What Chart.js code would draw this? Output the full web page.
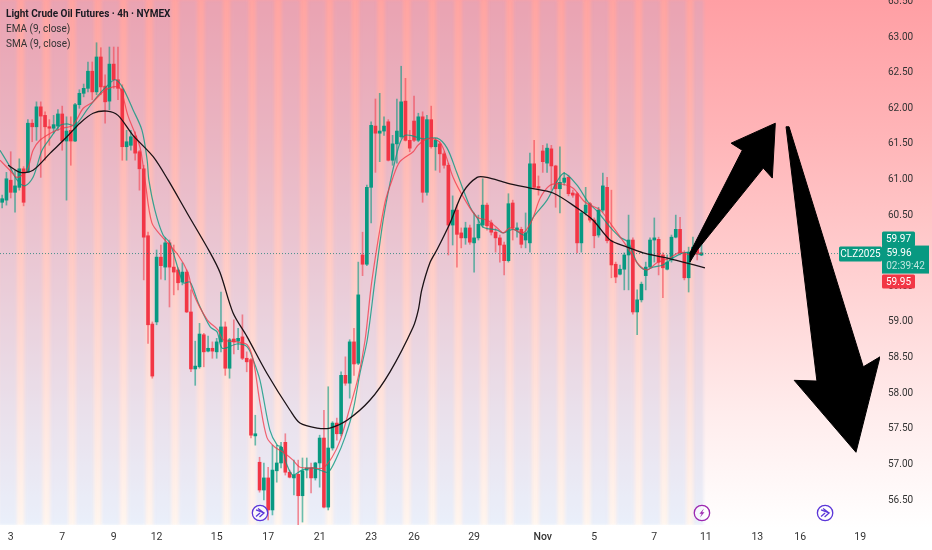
<!DOCTYPE html>
<html>
<head>
<meta charset="utf-8">
<title>Light Crude Oil Futures</title>
<script src="https://cdn.jsdelivr.net/npm/chart.js@4"></script>
<style>
html, body { margin: 0; padding: 0; background: #fff; }
canvas { display: block; filter: blur(0.3px); }
</style>
</head>
<body>
<canvas id="chart" width="932" height="550"></canvas>
<script>
// 4h candles, one entry per bar
const opens = [60.68,60.71,60.99,60.82,60.89,61.15,61.10,61.79,61.74,62.02,61.90,61.74,61.72,61.75,61.92,61.54,61.69,61.54,62.05,62.21,62.28,62.52,62.23,62.72,62.31,62.10,62.62,62.40,62.27,61.46,61.48,61.61,61.39,61.15,60.21,58.97,59.00,59.91,59.77,60.11,59.77,59.73,59.56,59.70,59.14,58.34,58.37,58.82,58.59,58.63,58.58,58.72,58.93,58.35,58.76,58.73,58.79,58.49,58.47,57.40,57.03,56.64,56.81,56.36,56.91,57.02,57.31,56.89,56.81,56.86,56.56,56.92,56.95,56.81,57.02,57.37,56.40,57.23,57.58,57.43,58.25,58.14,58.72,58.42,59.94,59.81,60.89,61.75,61.65,61.68,61.81,61.27,61.50,61.60,62.10,61.55,61.82,61.55,61.88,60.82,61.84,61.46,61.50,61.36,61.20,60.36,60.57,60.25,60.18,60.32,60.11,60.18,60.36,60.64,60.39,60.26,60.18,60.08,59.86,60.67,60.29,60.30,60.15,60.11,61.22,60.89,61.40,61.23,61.43,61.19,60.87,60.96,61.03,60.81,60.80,60.11,60.53,60.66,60.43,60.22,60.57,60.89,60.14,59.81,59.67,59.74,59.94,60.15,59.14,59.31,59.65,59.77,60.15,60.16,59.94,59.74,59.87,60.19,60.30,59.97,59.62,59.97,60.08,59.94];
const highs = [60.78,61.10,61.39,61.13,61.29,61.18,61.84,61.84,62.09,62.09,61.95,61.84,61.90,61.98,62.03,61.88,61.88,62.07,62.26,62.34,62.65,62.65,62.92,62.85,62.47,62.86,62.86,62.86,62.33,61.69,61.69,61.67,61.41,61.20,60.26,59.00,60.01,60.08,60.18,60.15,60.08,59.76,59.83,59.73,59.45,58.73,58.98,58.84,58.80,58.72,58.77,59.42,59.00,58.77,59.03,58.91,59.10,58.58,58.49,57.69,57.10,57.02,56.96,57.27,57.27,57.31,57.43,56.92,57.06,57.06,57.09,57.09,57.02,57.03,57.41,57.76,58.09,57.60,57.65,58.30,58.51,58.75,58.91,59.84,60.26,60.92,61.81,62.13,62.21,61.88,61.84,61.62,62.13,62.59,62.42,61.69,62.17,61.93,61.95,61.90,62.03,61.58,61.53,61.39,61.23,60.77,60.64,60.32,60.40,60.36,60.53,60.50,61.01,60.67,60.43,60.32,60.22,60.12,60.80,60.71,60.39,60.33,60.53,61.37,61.55,61.05,61.48,61.50,61.48,61.20,61.46,61.10,61.06,60.85,60.82,60.56,60.89,60.68,60.46,60.61,61.09,61.03,60.85,59.84,59.80,59.97,60.50,60.18,59.45,59.56,59.84,60.18,60.46,60.19,59.97,59.94,60.22,60.50,60.47,60.00,60.05,60.19,60.09,60.12];
const lows = [60.60,60.64,60.74,60.54,60.85,60.63,61.10,61.53,61.55,61.03,61.27,61.48,61.65,61.69,61.41,60.71,61.20,61.53,62.00,62.16,62.23,62.12,62.19,62.19,61.79,61.98,62.28,62.12,61.27,61.27,61.41,61.27,60.85,59.59,58.70,58.21,58.96,59.60,59.59,59.21,59.38,59.45,59.52,59.13,58.30,58.11,58.35,58.37,58.58,58.49,58.49,58.58,58.25,58.21,58.55,58.61,58.47,58.30,57.37,57.27,56.61,56.50,56.22,56.29,56.75,56.95,56.85,56.81,56.57,56.15,56.19,56.81,56.60,56.78,56.68,56.39,56.36,57.20,57.34,57.40,58.11,57.93,58.25,58.40,59.65,59.79,60.39,61.10,61.25,61.62,61.26,61.20,61.23,61.58,61.54,61.39,61.53,61.53,60.68,60.78,61.44,61.13,61.10,61.16,59.94,60.08,59.77,60.04,60.09,60.09,59.70,60.15,60.33,60.29,60.22,59.98,59.84,59.66,59.84,60.15,60.19,60.04,60.04,59.98,60.88,60.78,61.10,61.10,60.85,60.61,60.53,60.92,60.77,60.75,59.97,59.98,60.50,60.40,60.04,60.19,60.54,60.11,59.62,59.55,59.66,59.45,59.45,59.11,58.82,59.28,59.45,59.76,59.84,59.66,59.34,59.73,59.84,60.18,59.94,59.59,59.42,59.94,59.87,59.93];
const closes = [60.73,61.01,60.82,60.91,61.15,60.68,61.79,61.74,62.02,61.89,61.74,61.72,61.77,61.92,61.54,61.68,61.54,62.05,62.21,62.28,62.52,62.23,62.72,62.30,62.09,62.62,62.40,62.28,61.46,61.53,61.60,61.37,61.15,60.19,58.96,58.24,59.91,59.79,60.11,59.77,59.70,59.55,59.70,59.14,58.34,58.38,58.83,58.58,58.63,58.59,58.72,58.93,58.35,58.75,58.72,58.77,58.49,58.44,57.41,57.43,56.64,56.81,56.36,56.92,57.02,57.24,56.89,56.82,56.85,56.56,56.91,56.95,56.81,57.02,57.37,56.40,57.23,57.58,57.43,58.25,58.14,58.72,58.41,59.38,59.81,60.89,61.76,61.65,61.68,61.75,61.27,61.50,61.68,62.09,61.55,61.44,61.55,61.88,60.82,61.84,61.46,61.55,61.36,61.20,60.36,60.57,60.23,60.18,60.32,60.12,60.18,60.37,60.64,60.35,60.26,60.18,60.08,59.86,60.66,60.32,60.32,60.09,60.25,61.22,60.89,60.88,61.25,61.44,61.19,60.87,60.96,61.02,60.80,60.78,60.11,60.53,60.64,60.43,60.21,60.57,60.91,60.14,59.80,59.63,59.74,59.94,60.15,59.14,59.31,59.53,59.77,60.15,60.18,59.84,59.76,59.84,60.19,60.30,59.97,59.62,59.98,60.05,59.97,59.97];

// moving averages, read at a handful of bars
const emaBars = [-0.5,1.8,3.5,5.8,7.2,8.8,11.9,14,16.5,18.9,21.2,23.5,25.8,27.5,29.3,32.1,33.3,34.9,37.5,41,43.3,44.5,47.8,50.3,51.5,54.7,57.1,58.5,60.1,61.7,63.6,65.5,67.8,69.4,72.5,74.8,76.9,78.8,81.1,83,84.6,86.2,89.2,91.1,92.7,95.8,96.9,99,101.4,102.8,105.1,107.9,110.7,113,115.4,116.8,118.4,121.4,123.5,125.4,127.7,130,133,135.9,139.4,142.4,145.7,148,150.3,152.6,155.7,158,160.3,163.1];
const emaValues = [61.27,61.13,61.03,61.13,61.41,61.55,61.67,61.72,61.76,62.00,62.09,62.23,62.30,62.28,61.90,61.46,60.99,60.39,60.18,59.94,59.69,59.41,59.03,58.89,58.75,58.72,58.68,58.47,57.86,57.38,57.24,57.17,57.06,56.96,56.95,56.95,57.10,57.34,57.81,58.23,58.75,59.59,60.67,61.03,61.25,61.39,61.48,61.57,61.55,61.44,61.03,60.71,60.47,60.43,60.32,60.25,60.32,60.25,60.43,60.74,60.92,60.94,60.88,60.68,60.57,60.33,60.05,59.83,59.73,59.83,59.90,59.98,59.94,59.97];
const smaBars = [-0.5,1.8,3.5,5.3,7.2,9.3,11.2,13.5,15.1,17,19.8,22.1,24.4,26.3,28,30.5,32.6,33.8,34.2,35.6,37.5,39.1,42.2,43.8,45.7,48.5,50.1,51.3,54.7,57.1,58.5,60.1,62.4,64.1,65.2,66.4,67.8,69.9,72.2,74.1,76,78,79.9,81.8,83.4,85.1,86.9,88.8,90.4,91.6,92.7,93.9,95.8,98.1,101.4,103.7,106,109.1,110.7,112.1,115.4,116.8,119.1,121.9,123.7,127,129.3,131,134,136.6,138.9,141.7,144,145.9,148,149.9,151.7,154,156.4,158.7,161,163.1];
const smaValues = [61.41,61.18,60.99,60.91,61.03,61.41,61.58,61.76,61.78,61.76,61.98,62.16,62.31,62.40,62.30,61.98,61.69,61.27,60.99,60.57,60.22,60.11,59.55,59.56,59.27,58.93,58.86,58.63,58.69,58.65,58.47,58.18,57.48,57.27,57.24,56.99,56.85,56.92,56.95,56.92,56.89,57.10,57.38,57.76,58.28,58.75,59.59,60.43,60.95,61.27,61.51,61.62,61.61,61.57,61.58,61.44,61.09,60.61,60.46,60.33,60.29,60.25,60.30,60.22,60.46,60.71,60.97,61.09,60.92,60.68,60.54,60.33,60.19,60.12,59.83,59.73,59.77,59.80,59.90,59.97,59.97,59.94];
const slowBars = [1.4,4.2,7.2,11.2,15.1,18.1,21.2,24.4,27,30.5,35.2,38.7,43.1,48.5,50.8,53.8,57.1,61.7,67.1,69.4,73.4,76.4,80.4,85.7,90.4,95.8,97,97.8,99.7,101.4,104.4,107.4,110.7,113,117.7,123,128.4,134,137.7,141.7,145.7,149.4,154,158.7,163.8];
const slowValues = [61.20,61.10,61.13,61.37,61.60,61.79,61.93,61.96,61.90,61.62,61.32,60.99,60.53,59.97,59.69,59.13,58.79,58.28,57.76,57.58,57.51,57.51,57.62,57.90,58.30,58.93,59.17,59.45,59.83,60.02,60.39,60.82,61.03,61.03,60.95,60.88,60.81,60.60,60.43,60.15,60.05,59.97,59.91,59.84,59.76];

// hand drawn arrows, bar index and price of every corner
const arrowUpBars = [160.3,172.5,169.9,180.2,179.5,177.4,162,160.3];
const arrowUpPrices = [59.97,61.41,61.51,61.79,61.02,61.16,60.01,59.84];
const arrowDownBars = [182.7,183.4,200.7,204.6,199,184.6,189.9];
const arrowDownPrices = [61.74,61.74,58.37,58.51,57.17,58.18,58.17];

const xTickBars = [2,14,26,36,50,62,74,86,96,110,126,138,152,164,176,186,200];
const xTickLabels = ['3','7','9','12','15','17','21','23','26','29','Nov','5','7','11','13','16','19'];
const yTicks = [56.5,57,57.5,58,58.5,59,59.5,60,60.5,61,61.5,62,62.5,63,63.5];

// session shading
const dayBars = [1.3,7.3,13.3,19.3,25.3,31.3,37.3,43.3,49.3,55.3,61.3,67.3,73.3,79.3,85.3,91.3,97.3,103.3,109.3,115.3,121.3,127.3,133.3,139.3,145.3,151.3,157.3];
const lastDayBar = [162.3];
const gapBars = [-1.7,4.3,10.3,16.3,22.3,28.3,34.3,40.3,46.3,52.3,58.3,64.3,70.3,76.3,82.3,88.3,94.3,100.3,106.3,112.3,118.3,124.3,130.3,136.3,142.3,148.3,154.3,160.3];

const eventIcons = [
    { bar: 60.1, color: '#5b36d8', kind: 'arrow' },
    { bar: 163.1, color: '#9c27b0', kind: 'bolt' },
    { bar: 191.8, color: '#5b36d8', kind: 'arrow' }
];

const askPrice = 59.97, lastPrice = 59.96, bidPrice = 59.95;
const xMin = -0.5, xMax = 204.6, yMin = 56.149, yMax = 63.52;
const GREEN = '#089981', RED = '#f23645';

const isUp = opens.map((o, i) => closes[i] >= o);
const barColors = isUp.map(up => up ? GREEN : RED);
const wickColors = isUp.map(up => up ? 'rgba(8,153,129,0.6)' : 'rgba(242,54,69,0.55)');

function xy(bars, values) {
    return bars.map((b, i) => ({ x: b, y: values[i] }));
}

function band(bars) {
    return bars.map(b => ({ x: b, y: [yMin, yMax] }));
}

function lineSet(bars, values, color, width, order) {
    return {
        type: 'line',
        data: xy(bars, values),
        borderColor: color,
        borderWidth: width,
        pointRadius: 0,
        tension: 0.3,
        fill: false,
        order: order
    };
}

function arrowSet(bars, values) {
    return {
        type: 'line',
        data: xy(bars.concat(bars[0]), values.concat(values[0])),
        borderColor: '#000',
        backgroundColor: '#000',
        borderWidth: 1,
        pointRadius: 0,
        tension: 0,
        fill: 'shape',
        order: 0
    };
}

function bandSet(data, color, thickness) {
    return {
        data: data,
        backgroundColor: color,
        barThickness: thickness,
        grouped: false,
        isBand: true,
        order: 20
    };
}

// page gradient behind everything
const backdrop = {
    id: 'backdrop',
    beforeDraw(chart) {
        const ctx = chart.ctx;
        const g = ctx.createLinearGradient(0, 0, 0, 550);
        g.addColorStop(0, '#ff9fa4');
        g.addColorStop(0.25, '#ffb5b8');
        g.addColorStop(0.5, '#ffd0d1');
        g.addColorStop(0.75, '#ffecec');
        g.addColorStop(0.96, '#ffffff');
        ctx.save();
        ctx.fillStyle = g;
        ctx.fillRect(0, 0, chart.width, chart.height);
        ctx.restore();
    },
    beforeDatasetDraw(chart, args) {
        if (args.meta.controller.getDataset().isBand) {
            chart.ctx.save();
            chart.ctx.filter = 'blur(1.5px)';
        }
    },
    afterDatasetDraw(chart, args) {
        if (args.meta.controller.getDataset().isBand) {
            chart.ctx.restore();
        }
    }
};

function drawTag(ctx, text, x, y, w, h, bg, color) {
    ctx.fillStyle = bg;
    ctx.beginPath();
    ctx.roundRect(x, y, w, h, 1.5);
    ctx.fill();
    ctx.fillStyle = color;
    ctx.fillText(text, x + w / 2, y + h / 2 + 0.5);
}

function drawIcon(ctx, icon, x, y) {
    ctx.strokeStyle = icon.color;
    ctx.fillStyle = 'rgba(255,255,255,0.55)';
    ctx.lineWidth = 1.3;
    ctx.beginPath();
    ctx.arc(x, y, 7.7, 0, Math.PI * 2);
    ctx.fill();
    ctx.stroke();
    ctx.beginPath();
    if (icon.kind === 'bolt') {
        ctx.fillStyle = icon.color;
        ctx.moveTo(x + 2, y - 4.5);
        ctx.lineTo(x - 2.5, y + 0.8);
        ctx.lineTo(x - 0.2, y + 0.8);
        ctx.lineTo(x - 2, y + 4.5);
        ctx.lineTo(x + 2.5, y - 0.8);
        ctx.lineTo(x + 0.2, y - 0.8);
        ctx.closePath();
        ctx.fill();
    } else {
        ctx.moveTo(x - 4, y - 3.2);
        ctx.lineTo(x + 4, y);
        ctx.lineTo(x - 0.5, y + 4);
        ctx.moveTo(x - 4, y + 3.5);
        ctx.lineTo(x, y);
        ctx.moveTo(x - 2, y - 4.5);
        ctx.lineTo(x + 4, y);
        ctx.stroke();
    }
}

// symbol title, price tags and event markers
const overlay = {
    id: 'overlay',
    afterDraw(chart) {
        const ctx = chart.ctx;
        const xs = chart.scales.x, ys = chart.scales.y;
        ctx.save();

        ctx.textAlign = 'left';
        ctx.textBaseline = 'middle';
        ctx.fillStyle = '#1a1a22';
        ctx.font = 'bold 10px Roboto';
        ctx.fillText('Light Crude Oil Futures · 4h · NYMEX', 6, 14.5);
        ctx.fillStyle = '#333';
        ctx.font = '10px Roboto';
        ctx.fillText('EMA (9, close)', 6, 29.5);
        ctx.fillText('SMA (9, close)', 6, 44);

        const py = ys.getPixelForValue(lastPrice);
        ctx.textAlign = 'center';
        ctx.font = '10px Roboto';
        drawTag(ctx, 'CLZ2025', 839, py - 7, 43, 15, GREEN, '#fff');
        drawTag(ctx, askPrice.toFixed(2), 882, py - 22, 33, 15, GREEN, '#fff');
        ctx.fillStyle = GREEN;
        ctx.fillRect(882, py - 8, 47, 28);
        ctx.fillStyle = '#fff';
        ctx.fillText(lastPrice.toFixed(2), 899, py);
        ctx.fillStyle = '#bfe6df';
        ctx.fillText('02:39:42', 905.5, py + 13);
        drawTag(ctx, bidPrice.toFixed(2), 882, py + 21, 33, 14, RED, '#fff');

        eventIcons.forEach(icon => {
            drawIcon(ctx, icon, xs.getPixelForValue(icon.bar), 513);
        });
        ctx.restore();
    }
};

new Chart(document.getElementById('chart'), {
    type: 'bar',
    data: {
        datasets: [
            arrowSet(arrowUpBars, arrowUpPrices),
            arrowSet(arrowDownBars, arrowDownPrices),
            lineSet(slowBars, slowValues, '#1b1216', 1.3, 1),
            lineSet(emaBars, emaValues, 'rgba(242,54,69,0.75)', 1.2, 2),
            lineSet(smaBars, smaValues, 'rgba(8,153,129,0.8)', 1.2, 3),
            {
                type: 'line',
                data: [{ x: xMin, y: lastPrice }, { x: xMax, y: lastPrice }],
                borderColor: 'rgba(8,120,110,0.7)',
                borderWidth: 1,
                borderDash: [1, 2],
                pointRadius: 0,
                order: 4
            },
            {
                data: opens.map((o, i) => ({ x: i, y: [o, closes[i]] })),
                backgroundColor: barColors,
                barThickness: 3,
                minBarLength: 1.5,
                grouped: false,
                order: 5
            },
            {
                data: lows.map((l, i) => ({ x: i, y: [l, highs[i]] })),
                backgroundColor: wickColors,
                barThickness: 1,
                grouped: false,
                order: 6
            },
            bandSet(band(dayBars), 'rgba(150,180,235,0.2)', 17.5),
            bandSet(band(lastDayBar), 'rgba(150,180,235,0.2)', 9.5),
            bandSet(band(gapBars), 'rgba(255,195,150,0.15)', 7.5)
        ]
    },
    options: {
        responsive: false,
        animation: false,
        layout: { padding: 0 },
        plugins: {
            legend: { display: false },
            title: { display: false },
            tooltip: { enabled: false }
        },
        scales: {
            x: {
                type: 'linear',
                min: xMin,
                max: xMax,
                offset: false,
                grid: { display: false, drawTicks: false },
                border: { display: false },
                afterBuildTicks(scale) {
                    scale.ticks = xTickBars.map(v => ({ value: v }));
                },
                afterFit(scale) {
                    scale.height = 25;
                    scale.paddingLeft = 0;
                    scale.paddingRight = 0;
                },
                ticks: {
                    autoSkip: false,
                    maxRotation: 0,
                    padding: 6,
                    color: '#333',
                    font: ctx => ({
                        family: 'Roboto',
                        size: 10.5,
                        weight: ctx.tick && ctx.tick.value === 126 ? '500' : '400'
                    }),
                    callback: value => xTickLabels[xTickBars.indexOf(value)]
                }
            },
            y: {
                position: 'right',
                min: yMin,
                max: yMax,
                grid: { display: false, drawTicks: false },
                border: { display: false },
                afterBuildTicks(scale) {
                    scale.ticks = yTicks.map(v => ({ value: v }));
                },
                afterFit(scale) {
                    scale.width = 52;
                    scale.paddingTop = 0;
                    scale.paddingBottom = 0;
                },
                ticks: {
                    autoSkip: false,
                    padding: 8,
                    color: '#333',
                    font: { family: 'Roboto', size: 10 },
                    callback: value => value.toFixed(2)
                }
            }
        }
    },
    plugins: [backdrop, overlay]
});
</script>
</body>
</html>
